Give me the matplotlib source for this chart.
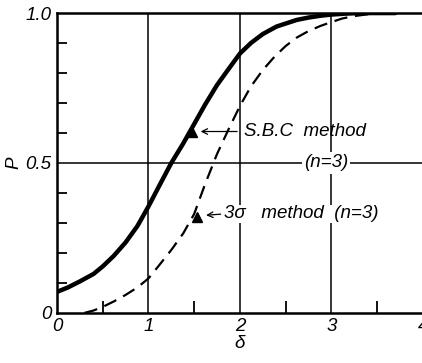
import matplotlib
matplotlib.use('Agg')
import matplotlib.pyplot as plt
from matplotlib.ticker import MultipleLocator, FixedLocator

# S.B.C method (n=3), solid curve
sbc_delta = [0.0, 0.12, 0.25, 0.4, 0.5, 0.62, 0.75, 0.88, 1.0, 1.12, 1.25, 1.38, 1.5, 1.62,
             1.75, 1.88, 2.0, 2.12, 2.25, 2.4, 2.5, 2.62, 2.75, 2.88, 3.0, 3.15, 3.3, 3.7]
sbc_p = [0.07, 0.085, 0.105, 0.13, 0.155, 0.19, 0.235, 0.29, 0.355, 0.425, 0.50, 0.565, 0.63, 0.695,
         0.76, 0.815, 0.865, 0.9, 0.93, 0.955, 0.965, 0.977, 0.985, 0.991, 0.995, 0.998, 1.0, 1.0]

# 3 sigma method (n=3), dashed curve
sig_delta = [0.30, 0.4, 0.5, 0.62, 0.75, 0.88, 1.0, 1.12, 1.25, 1.38, 1.5, 1.62, 1.75, 1.88,
             2.0, 2.12, 2.25, 2.38, 2.5, 2.62, 2.75, 2.88, 3.0, 3.12, 3.25, 3.5]
sig_p = [0.0, 0.008, 0.02, 0.038, 0.06, 0.085, 0.115, 0.16, 0.21, 0.265, 0.33, 0.43, 0.53, 0.615,
         0.69, 0.755, 0.81, 0.855, 0.89, 0.918, 0.94, 0.957, 0.97, 0.982, 0.99, 1.0]

# label markers on the curves
sbc_mark = (1.48, 0.605)
sig_mark = (1.53, 0.32)

fnt = dict(family='Liberation Sans', style='italic', size=13.5)

fig = plt.figure(figsize=(4.22, 3.63), dpi=100)
ax = fig.add_axes([0.135, 0.138, 0.867, 0.826])

ax.plot(sbc_delta, sbc_p, color='black', lw=3.2, solid_capstyle='round', solid_joinstyle='round')
ax.plot(sig_delta, sig_p, color='black', lw=1.6, dashes=(6, 3.5))

ax.set_xlim(0, 4)
ax.set_ylim(0, 1.0)

# grid: verticals at 1, 2, 3 and a horizontal line at 0.5
for gx in [1, 2, 3]:
    ax.axvline(gx, color='black', lw=1.1, zorder=1)
ax.axhline(0.5, color='black', lw=1.1, zorder=1)

for s in ['left', 'bottom', 'top']:
    ax.spines[s].set_linewidth(1.8)
ax.spines['right'].set_visible(False)

ax.xaxis.set_major_locator(FixedLocator([0, 1, 2, 3, 4]))
ax.yaxis.set_major_locator(FixedLocator([0, 0.5, 1.0]))
ax.set_xticklabels(['0', '1', '2', '3', '4'], **fnt)
ax.set_yticklabels(['0', '0.5', '1.0'], **fnt)
ax.tick_params(which='major', length=0, pad=4)
ax.xaxis.set_minor_locator(FixedLocator([0.5, 1.5, 2.5, 3.5]))
ax.yaxis.set_minor_locator(MultipleLocator(0.1))
ax.tick_params(which='minor', direction='in', width=1.3)
ax.tick_params(axis='x', which='minor', length=9)
ax.tick_params(axis='y', which='minor', length=7)

ax.set_xlabel('δ', **fnt, labelpad=0)
ax.set_ylabel('P', **fnt, labelpad=2)

# markers and labels
ax.plot(*sbc_mark, marker='^', color='black', ms=7, zorder=5)
ax.plot(*sig_mark, marker='^', color='black', ms=7, zorder=5)

ax.annotate('', xy=(sbc_mark[0] + 0.06, sbc_mark[1]), xytext=(2.0, sbc_mark[1]),
            arrowprops=dict(arrowstyle='->', color='black', lw=0.9))
ax.text(2.04, sbc_mark[1], 'S.B.C  method', ha='left', va='center', **fnt)
ax.text(2.94, 0.5, '(n=3)', ha='center', va='center', **fnt,
        bbox=dict(facecolor='white', edgecolor='none', pad=1.5))

ax.annotate('', xy=(sig_mark[0] + 0.07, sig_mark[1] + 0.005), xytext=(1.82, sig_mark[1] + 0.01),
            arrowprops=dict(arrowstyle='->', color='black', lw=0.9))
ax.text(1.83, sig_mark[1] + 0.01, '3σ   method  (n=3)', ha='left', va='center', **fnt,
        bbox=dict(facecolor='white', edgecolor='none', pad=0.5))

fig.savefig('out.png', dpi=100)
